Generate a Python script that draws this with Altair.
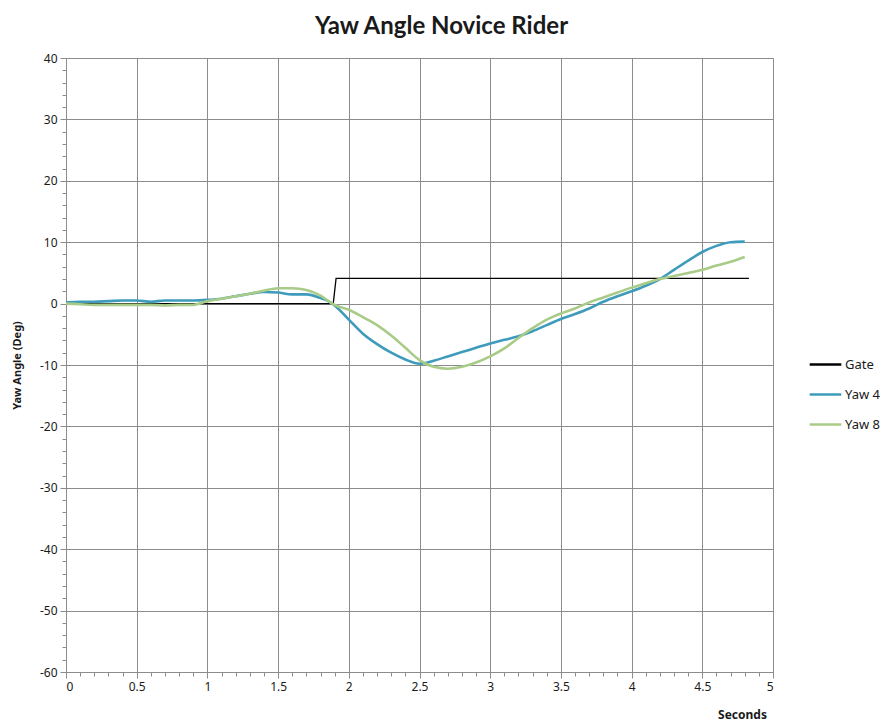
import altair as alt
import pandas as pd

# ---- data ----
gate_x = [0.0, 1.89, 1.91, 4.83]
gate_y = [0.0, 0.0, 4.1, 4.1]

yaw4_x = [0.0, 0.1, 0.2, 0.3, 0.4, 0.5, 0.6, 0.7, 0.8, 0.9, 1.0, 1.1, 1.2, 1.3, 1.4, 1.5, 1.6, 1.7, 1.8, 1.87,
          1.9, 2.0, 2.1, 2.2, 2.3, 2.4, 2.5, 2.6, 2.7, 2.8, 2.9, 3.0, 3.1, 3.2, 3.3, 3.4, 3.5, 3.6, 3.7, 3.8,
          3.9, 4.0, 4.1, 4.2, 4.3, 4.4, 4.5, 4.6, 4.7, 4.8]
yaw4_y = [0.2, 0.3, 0.3, 0.4, 0.5, 0.5, 0.3, 0.5, 0.5, 0.5, 0.6, 0.8, 1.2, 1.6, 1.9, 1.8, 1.5, 1.5, 0.9, 0.2,
          -0.3, -2.6, -4.9, -6.6, -8.0, -9.1, -9.8, -9.3, -8.6, -7.9, -7.2, -6.5, -5.9, -5.3, -4.5, -3.5, -2.5, -1.7, -0.8, 0.3,
          1.2, 2.0, 2.9, 4.0, 5.5, 7.0, 8.4, 9.4, 10.0, 10.1]

yaw8_x = [0.0, 0.1, 0.2, 0.3, 0.4, 0.5, 0.6, 0.7, 0.8, 0.9, 1.0, 1.1, 1.2, 1.3, 1.4, 1.5, 1.6, 1.7, 1.8, 1.87,
          1.9, 2.0, 2.1, 2.2, 2.3, 2.4, 2.5, 2.6, 2.7, 2.8, 2.9, 3.0, 3.1, 3.2, 3.3, 3.4, 3.5, 3.6, 3.7, 3.8,
          3.9, 4.0, 4.1, 4.2, 4.3, 4.4, 4.5, 4.6, 4.7, 4.8]
yaw8_y = [0.0, -0.1, -0.2, -0.2, -0.2, -0.2, -0.2, -0.3, -0.2, -0.2, 0.4, 0.8, 1.2, 1.6, 2.1, 2.5, 2.5, 2.2, 1.3, 0.2,
          -0.2, -1.0, -2.2, -3.5, -5.2, -7.2, -9.2, -10.3, -10.6, -10.3, -9.6, -8.6, -7.3, -5.6, -4.0, -2.6, -1.6, -0.8, 0.2, 1.0,
          1.8, 2.6, 3.3, 4.0, 4.5, 5.0, 5.5, 6.2, 6.8, 7.6]

series_names = ["Gate", "Yaw 4", "Yaw 8"]
series_colors = ["#000000", "#3E9BBC", "#A9CB88"]

x_major = [0, 0.5, 1, 1.5, 2, 2.5, 3, 3.5, 4, 4.5, 5]
x_minor = [round(i * 0.1, 1) for i in range(51)]
y_major = [-60, -50, -40, -30, -20, -10, 0, 10, 20, 30, 40]
y_minor = list(range(-60, 41, 2))

def frame(n, xs, ys):
    return pd.DataFrame({"series": n, "t": xs, "yaw": ys, "order": range(len(xs))})

gate_df = frame("Gate", gate_x, gate_y)
yaw_df = pd.concat([frame("Yaw 4", yaw4_x, yaw4_y), frame("Yaw 8", yaw8_x, yaw8_y)])
all_df = pd.concat([gate_df, yaw_df])

FONT = "Noto Sans"
TXT = "#1a1a1a"
GRID = "#8C8C8C"
xscale = alt.Scale(domain=[0, 5], nice=False, zero=False)
yscale = alt.Scale(domain=[-60, 40], nice=False, zero=False)

x_main = alt.X("t:Q", scale=xscale,
               axis=alt.Axis(values=x_major, labelExpr="toString(datum.value)", grid=True, gridColor=GRID,
                             gridWidth=1, tickSize=6, tickColor=GRID, domainColor=GRID,
                             labelFont=FONT, labelFontSize=12, labelColor=TXT, labelPadding=3,
                             title="Seconds", titleFont=FONT, titleFontSize=12, titleFontWeight="bold",
                             titleColor=TXT, titleX=676, titleY=42, titleAlign="center",
                             titleBaseline="middle", orient="bottom"))
y_main = alt.Y("yaw:Q", scale=yscale,
               axis=alt.Axis(values=y_major, labelExpr="toString(datum.value)", grid=True, gridColor=GRID,
                             gridWidth=1, tickSize=6, tickColor=GRID, domainColor=GRID,
                             labelFont=FONT, labelFontSize=12, labelColor=TXT, labelPadding=3,
                             title="Yaw Angle (Deg)", titleFont=FONT, titleFontSize=11, titleFontWeight="bold",
                             titleColor=TXT, titleX=-49, titleY=307, titleAngle=-90,
                             titleAlign="center", titleBaseline="middle", orient="left"))
color = alt.Color("series:N", scale=alt.Scale(domain=series_names, range=series_colors),
                  legend=alt.Legend(title=None, orient="none", legendX=742, legendY=289,
                                    symbolType="stroke", symbolSize=1000, symbolStrokeWidth=2.5,
                                    labelFont=FONT, labelFontSize=13, labelColor=TXT,
                                    rowPadding=5, labelOffset=2))

gate = alt.Chart(gate_df).mark_line(strokeWidth=1.3).encode(
    x=x_main, y=y_main, color=color, order="order:Q")

yaws = alt.Chart(yaw_df).mark_line(strokeWidth=2.6, interpolate="monotone").encode(
    x=alt.X("t:Q", scale=xscale, axis=None), y=alt.Y("yaw:Q", scale=yscale, axis=None),
    color=color, order="order:Q")

minor = alt.Chart(all_df).mark_point(opacity=0).encode(
    x=alt.X("t:Q", scale=xscale,
            axis=alt.Axis(values=x_minor, labels=False, grid=False, tickSize=4, tickColor=GRID,
                          domain=False, title=None, orient="bottom")),
    y=alt.Y("yaw:Q", scale=yscale,
            axis=alt.Axis(values=y_minor, labels=False, grid=False, tickSize=4, tickColor=GRID,
                          domain=False, title=None, orient="left")),
)

chart = alt.layer(gate, yaws, minor).resolve_axis(x="independent", y="independent").properties(
    width=707, height=614,
    autosize=alt.AutoSizeParams(type="none"),
    padding={"left": 58, "top": 50, "right": 107, "bottom": 51},
    title=alt.TitleParams("Yaw Angle Novice Rider", font="Lato", fontSize=24, fontWeight="bold",
                          color=TXT, anchor="middle", dx=22, offset=13),
).configure_view(stroke=None).configure(background="white")

chart.save("out.html", embed_options={"renderer": "svg", "actions": False})
